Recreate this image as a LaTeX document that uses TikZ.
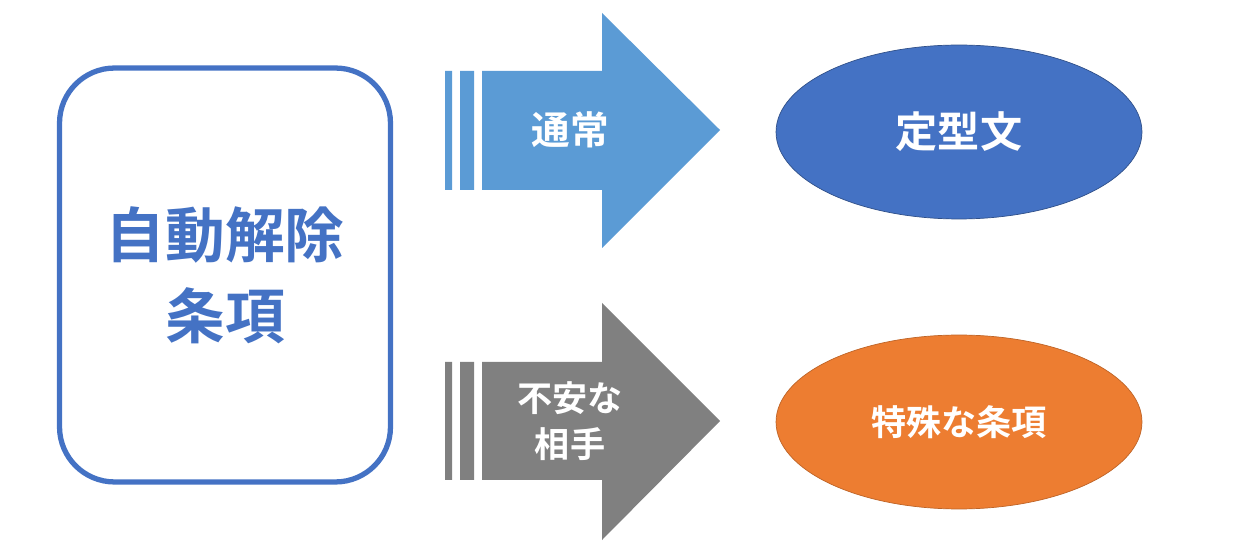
\documentclass[tikz,border=0pt]{standalone}
\usepackage{fontspec}
\newfontfamily\cjk{Noto Sans CJK JP}[BoldFont={Noto Sans CJK JP Bold}]
\usetikzlibrary{positioning}
\usetikzlibrary{shapes.geometric}
\definecolor{boxblue}{RGB}{68,114,196}
\definecolor{arrowblue}{RGB}{91,155,213}
\definecolor{arrowgray}{RGB}{128,128,128}
\definecolor{orange}{RGB}{237,125,49}
\begin{document}
\begin{tikzpicture}[x=0.02cm,y=-0.02cm,font=\cjk\bfseries,
    label/.style={text=white,font=\cjk\bfseries\fontsize{22}{26}\selectfont,align=center},
    result/.style={ellipse,minimum width=7.32cm,minimum height=3.48cm,draw=boxblue!70!black,line width=0.4pt}]
    \useasboundingbox (0,0) rectangle (1254,553);

    \node[draw=boxblue,line width=3pt,rounded corners=1.1cm,minimum width=6.62cm,minimum height=8.28cm,
          text=boxblue,align=center,font=\cjk\bfseries\fontsize{34}{46}\selectfont] (main) at (225,275) {自動解除\\条項};

    % upper arrow
    \fill[arrowblue] (445,71) rectangle (452,190) (460,71) rectangle (474,190);
    \fill[arrowblue] (482,71) -- (602,71) -- (602,13) -- (720,130) -- (602,248) -- (602,190) -- (482,190) -- cycle;
    \node[label] (usual) at (570,130) {通常};

    % lower arrow
    \fill[arrowgray] (445,362) rectangle (452,480) (460,362) rectangle (474,480);
    \fill[arrowgray] (482,362) -- (602,362) -- (602,303) -- (720,421) -- (602,540) -- (602,480) -- (482,480) -- cycle;
    \node[label,font=\cjk\bfseries\fontsize{20}{26}\selectfont] (unsafe) at (570,421) {不安な\\相手};

    \node[result,fill=boxblue] (form) at (959,132) {};
    \node[label,font=\cjk\bfseries\fontsize{24}{28}\selectfont] at (form) {定型文};
    \node[result,fill=orange,draw=orange!80!black] (special) at (959,422) {};
    \node[label,font=\cjk\bfseries\fontsize{20}{24}\selectfont] at (special) {特殊な条項};
\end{tikzpicture}
\end{document}
